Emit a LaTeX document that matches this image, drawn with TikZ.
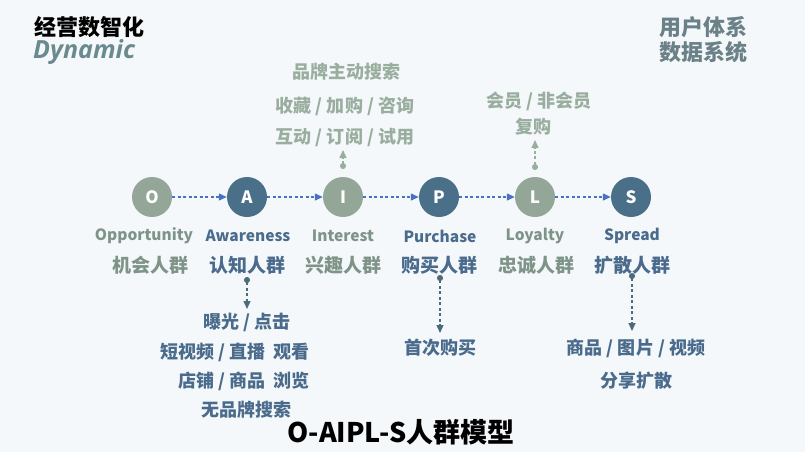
\documentclass[tikz,border=0pt]{standalone}
\usepackage{fontspec}
\setmainfont{Noto Sans CJK SC}
\newfontfamily\dynfont{Open Sans}
\usetikzlibrary{arrows.meta}
\definecolor{bg}{HTML}{F5F8FA}
\definecolor{sage}{HTML}{93A697}
\definecolor{navy}{HTML}{4A7089}
\definecolor{sagetxt}{HTML}{7E9488}
\definecolor{navytxt}{HTML}{4A6B8C}
\definecolor{uptxt}{HTML}{9AAEA0}
\definecolor{dashblue}{HTML}{4472C4}
\definecolor{downline}{HTML}{4D6B7A}
\definecolor{dyncol}{HTML}{6A8A90}
\definecolor{sysc}{HTML}{6B8188}
\tikzset{
  circ/.style={circle, minimum size=40pt, inner sep=0pt, text=white, font=\bfseries\fontsize{17}{17}\selectfont},
  circsage/.style={circ, fill=sage},
  circnavy/.style={circ, fill=navy},
  entxt/.style={font=\bfseries\fontsize{15.5}{15.5}\selectfont, inner sep=0pt},
  cntxt/.style={font=\bfseries\fontsize{19}{19}\selectfont, inner sep=0pt},
  subtxt/.style={font=\bfseries\fontsize{18}{18}\selectfont, inner sep=0pt},
  flow/.style={dashblue, dash pattern=on 3pt off 2.5pt, line width=1.3pt, -{Triangle[length=8pt,width=7pt]}},
  vline/.style={dash pattern=on 3pt off 2.5pt, line width=1.3pt, {Circle[length=6pt]}-{Triangle[length=8pt,width=7pt]}},
}
\begin{document}
\begin{tikzpicture}[x=1pt,y=-1pt]
\fill[bg] (0,0) rectangle (805,452);
\useasboundingbox (0,0) rectangle (805,452);
% header
\node[anchor=west, inner sep=0pt, font=\bfseries\fontsize{22}{22}\selectfont] (h1) at (34,27) {经营数智化};
\node[anchor=west, inner sep=0pt, text=dyncol, font=\dynfont\itshape\bfseries\fontsize{25}{25}\selectfont] (h2) at (33,52) {Dynamic};
\node[anchor=west, inner sep=0pt, text=sysc, font=\bfseries\fontsize{22}{22}\selectfont] (s1) at (659,27) {用户体系};
\node[anchor=west, inner sep=0pt, text=sysc, font=\bfseries\fontsize{22}{22}\selectfont] (s2) at (659,52) {数据系统};
% circles
\node[circsage] (O) at (152,197) {O};
\node[circnavy] (A) at (247,197) {A};
\node[circsage] (I) at (343,197) {I};
\node[circnavy] (P) at (439,197) {P};
\node[circsage] (L) at (535,197) {L};
\node[circnavy] (S) at (631,197) {S};
\draw[flow] (O) -- (A);
\draw[flow] (A) -- (I);
\draw[flow] (I) -- (P);
\draw[flow] (P) -- (L);
\draw[flow] (L) -- (S);
% labels
\node[entxt, text=sagetxt] (eO) at (144,236) {Opportunity};
\node[entxt, text=navytxt] (eA) at (248,236) {Awareness};
\node[entxt, text=sagetxt] (eI) at (343,236) {Interest};
\node[entxt, text=navytxt] (eP) at (440,236) {Purchase};
\node[entxt, text=sagetxt] (eL) at (535,236) {Loyalty};
\node[entxt, text=navytxt] (eS) at (632,236) {Spread};
\node[cntxt, text=sagetxt] (cO) at (150,265) {机会人群};
\node[cntxt, text=navytxt] (cA) at (247,265) {认知人群};
\node[cntxt, text=sagetxt] (cI) at (343,265) {兴趣人群};
\node[cntxt, text=navytxt] (cP) at (439,265) {购买人群};
\node[cntxt, text=sagetxt] (cL) at (536,265) {忠诚人群};
\node[cntxt, text=navytxt] (cS) at (632,265) {扩散人群};
% upper texts
\node[subtxt, text=uptxt] (i1) at (346,72) {品牌主动搜索};
\node[subtxt, text=uptxt] (i2) at (345,106) {收藏 / 加购 / 咨询};
\node[subtxt, text=uptxt] (i3) at (345,137) {互动 / 订阅 / 试用};
\node[subtxt, text=uptxt] (l1) at (539,101) {会员 / 非会员};
\node[subtxt, text=uptxt] (l2) at (533,127) {复购};
\coordinate (iu0) at (343,169);
\coordinate (iu1) at (343,150);
\coordinate (lu0) at (535,170);
\coordinate (lu1) at (535,140);
\draw[vline, uptxt] (iu0) -- (iu1);
\draw[vline, uptxt] (lu0) -- (lu1);
% lower texts
\node[subtxt, text=navytxt] (a1) at (247,322) {曝光 / 点击};
\node[subtxt, text=navytxt] (a2) at (235,352) {短视频 / 直播\ \ 观看};
\node[subtxt, text=navytxt] (a3) at (244,381) {店铺 / 商品\ \ 浏览};
\node[subtxt, text=navytxt] (a4) at (246,410) {无品牌搜索};
\node[subtxt, text=navytxt] (p1) at (440,348) {首次购买};
\node[subtxt, text=navytxt] (sp1) at (636,348) {商品 / 图片 / 视频};
\node[subtxt, text=navytxt] (sp2) at (636,381) {分享扩散};
\coordinate (ad0) at (247,277);
\coordinate (ad1) at (247,309);
\coordinate (pd0) at (440,275);
\coordinate (pd1) at (440,333);
\coordinate (sd0) at (632,273);
\coordinate (sd1) at (632,331);
\draw[vline, downline] (ad0) -- (ad1);
\draw[vline, downline] (pd0) -- (pd1);
\draw[vline, downline] (sd0) -- (sd1);
% title
\node[inner sep=0pt, font=\bfseries\fontsize{27}{27}\selectfont] (title) at (401,432) {O-AIPL-S人群模型};
\end{tikzpicture}
\end{document}
